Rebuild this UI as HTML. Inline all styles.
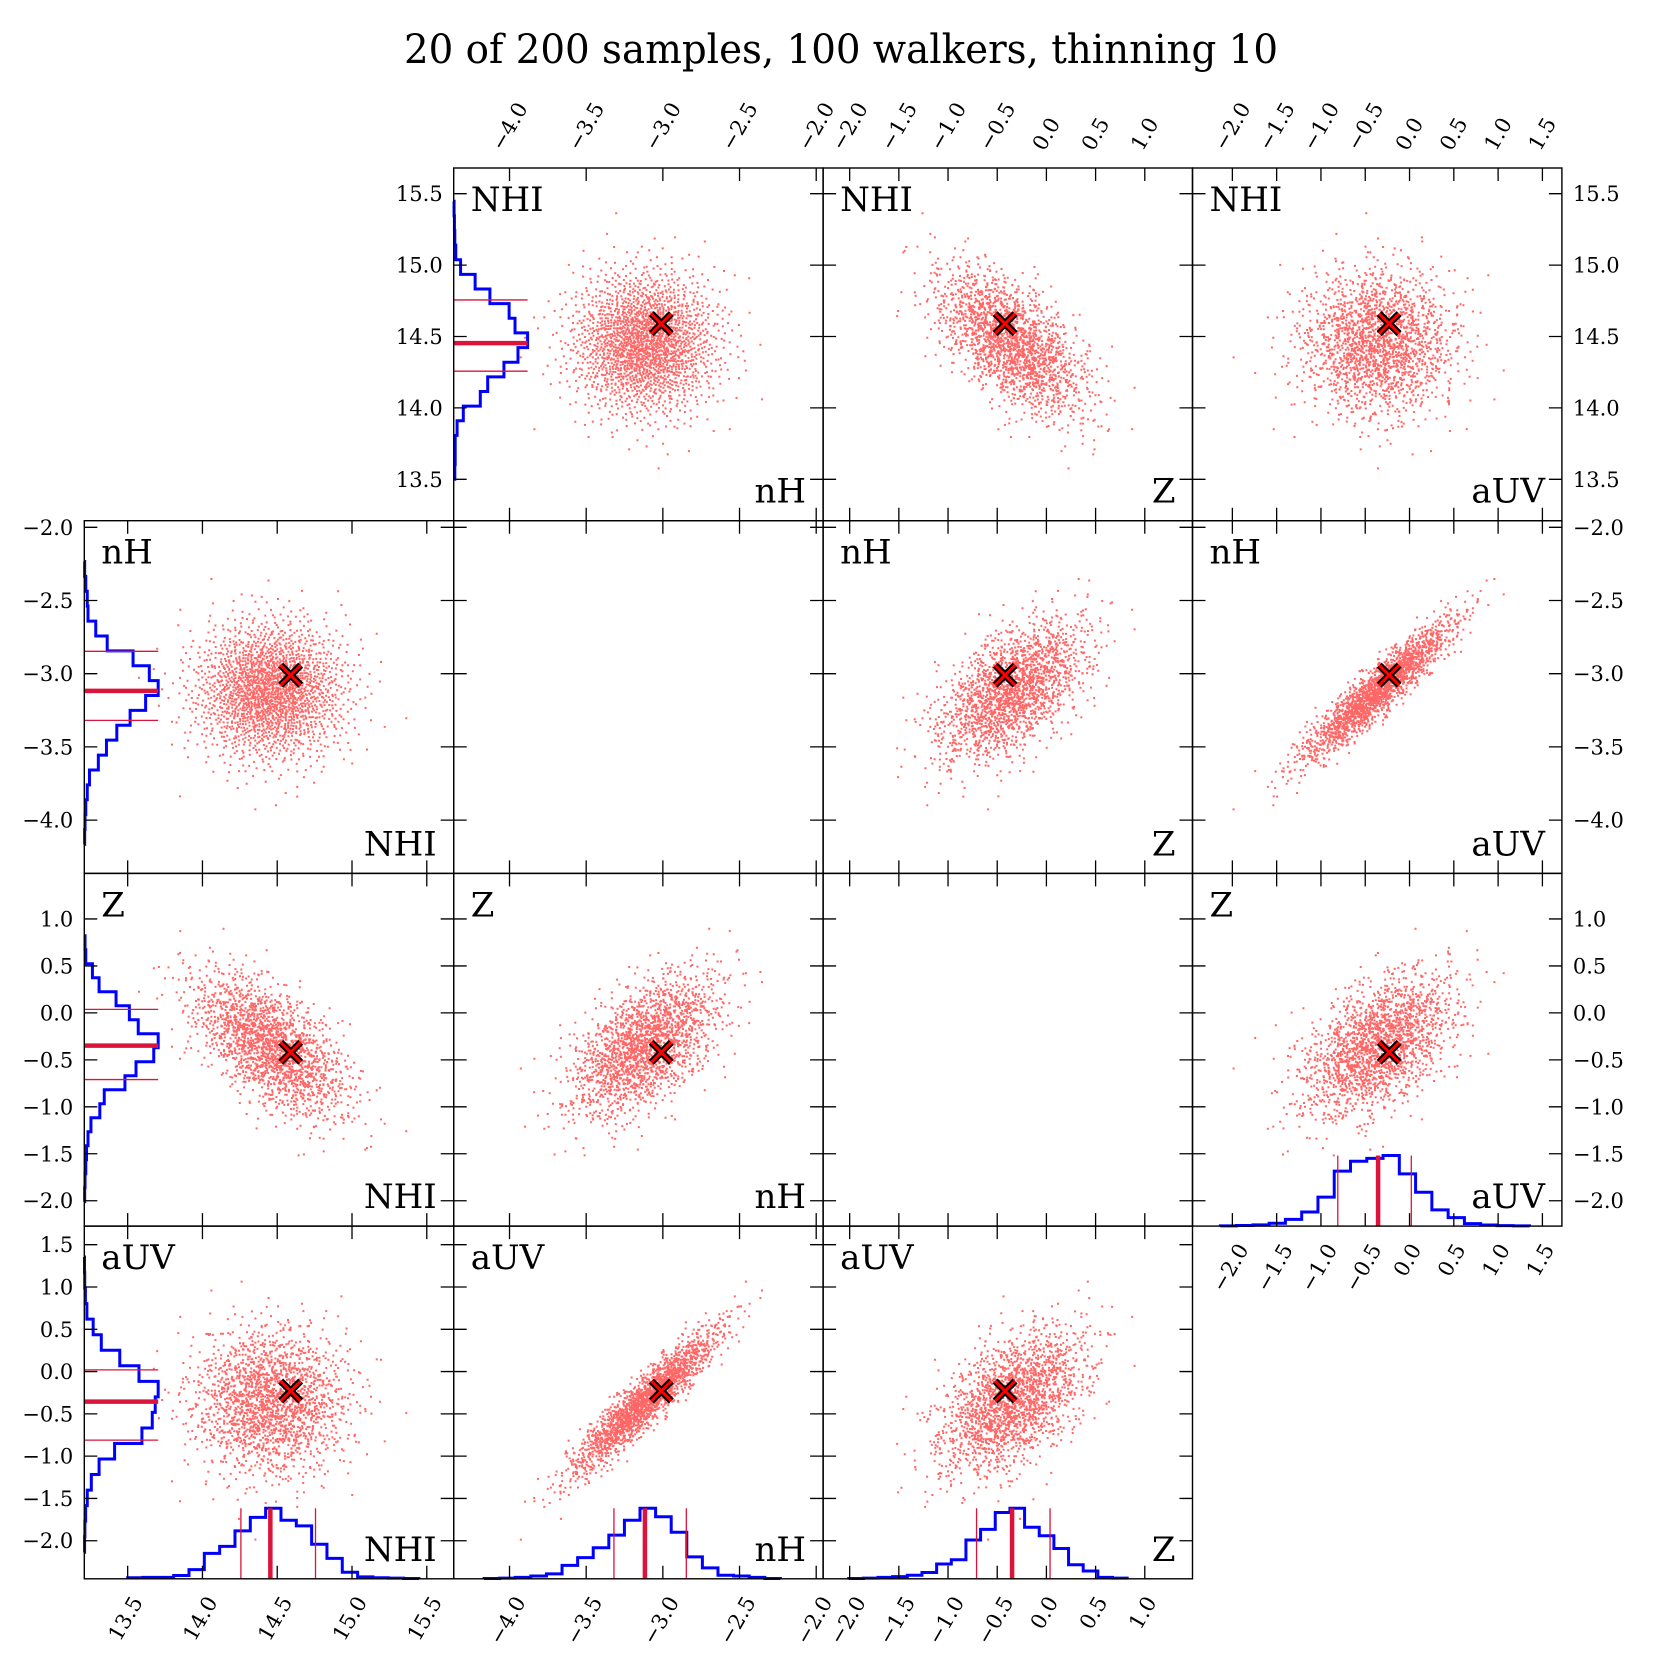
<!DOCTYPE html>
<html><head><meta charset="utf-8"><style>
html,body{margin:0;padding:0;background:#fff;}
svg{display:block;font-family:"DejaVu Serif","Liberation Serif",serif;}
</style></head><body>
<svg id="fig" xmlns="http://www.w3.org/2000/svg" width="1680" height="1680" viewBox="0 0 1680 1680">
<rect x="0" y="0" width="1680" height="1680" fill="#fff"/>
<text x="841" y="63" text-anchor="middle" font-size="40" textLength="874" lengthAdjust="spacingAndGlyphs">20 of 200 samples, 100 walkers, thinning 10</text>
</svg>
<script>
// ---- data ----
const paramNames = ["NHI", "nH", "Z", "aUV"];
const axisLo = [13.21, -4.364, -2.27, -2.45];
const axisHi = [15.68, -1.955, 1.485, 1.72];
const ticksNHI = [13.5, 14.0, 14.5, 15.0, 15.5];
const ticksNH = [-4.0, -3.5, -3.0, -2.5, -2.0];
const ticksZ = [-2.0, -1.5, -1.0, -0.5, 0.0, 0.5, 1.0];
const ticksAUV = [-2.0, -1.5, -1.0, -0.5, 0.0, 0.5, 1.0, 1.5];
const paramMedian = [14.454, -3.117, -0.349, -0.355];
const paramP16 = [14.257, -3.319, -0.71, -0.81];
const paramP84 = [14.756, -2.847, 0.037, 0.02];
const paramSd = [0.25, 0.235, 0.37, 0.42];
const corrNHI = [1, 0, -0.6, 0];
const corrNH = [0, 1, 0.55, 0.93];
const corrZ = [-0.6, 0.55, 1, 0.5];
const corrAUV = [0, 0.93, 0.5, 1];
const truthValues = [14.59, -3.01, -0.42, -0.23];
const histStart = [13.50, -4.166, -2.01, -2.136];
const histWidth = [0.1025, 0.1017, 0.149, 0.1837];
const histNHI = [0.015,0.02,0.02,0.046,0.13,0.36,0.46,0.68,0.87,1.0,0.83,0.75,0.49,0.29,0.093,0.028,0.015,0.01,0.005];
const histNH = [0.005,0.01,0.02,0.04,0.07,0.19,0.3,0.44,0.62,0.83,1.0,0.88,0.66,0.31,0.155,0.05,0.04,0.02,0.005];
const histZ = [0.005,0.01,0.02,0.03,0.05,0.09,0.21,0.27,0.55,0.70,0.94,1.0,0.73,0.61,0.43,0.2,0.11,0.02,0.01];
const histAUV = [0.004,0.008,0.018,0.04,0.095,0.2,0.41,0.78,0.92,0.96,1.0,0.74,0.48,0.23,0.12,0.035,0.015,0.006,0.003];
const nSamples = 2000;

// ---- layout ----
const NS = "http://www.w3.org/2000/svg";
const svg = document.getElementById("fig");
const X0 = 84.3, PW = 369.4, Y0 = 168, PH = 352.7;
const FS = 21, TL = 13;
const tickSets = [ticksNHI, ticksNH, ticksZ, ticksAUV];
const hists = [histNHI, histNH, histZ, histAUV];
const corr = [corrNHI, corrNH, corrZ, corrAUV];

function el(tag, attrs, parent) {
  const e = document.createElementNS(NS, tag);
  for (const k in attrs) e.setAttribute(k, attrs[k]);
  (parent || svg).appendChild(e);
  return e;
}
function sx(k, col, v) { return X0 + col * PW + (v - axisLo[k]) / (axisHi[k] - axisLo[k]) * PW; }
function sy(k, row, v) { return Y0 + row * PH + (axisHi[k] - v) / (axisHi[k] - axisLo[k]) * PH; }
function fmt(v) { const s = Math.abs(v).toFixed(1); return (v < 0 ? "\u2212" : "") + s; }
function textW(s) { let w = 0; for (const c of s) w += c === "\u2212" ? 0.838 : (c === "." ? 0.318 : 0.636); return w * FS; }

// ---- samples (deterministic quasi-random, shaped by medians/sds/correlations) ----
function halton(i, b) { let f = 1, r = 0; while (i > 0) { f /= b; r += f * (i % b); i = Math.floor(i / b); } return r; }
const L = [[0,0,0,0],[0,0,0,0],[0,0,0,0],[0,0,0,0]];
for (let i = 0; i < 4; i++) for (let j = 0; j <= i; j++) {
  let s = corr[i][j]; for (let k = 0; k < j; k++) s -= L[i][k] * L[j][k];
  L[i][j] = i === j ? Math.sqrt(s) : s / L[j][j];
}
const samples = [];
for (let n = 1; n <= nSamples; n++) {
  const u1 = halton(n, 2), u2 = halton(n, 3), u3 = halton(n, 5), u4 = halton(n, 7);
  const r1 = Math.sqrt(-2 * Math.log(Math.max(u1, 1e-9))), r2 = Math.sqrt(-2 * Math.log(Math.max(u3, 1e-9)));
  const z = [r1 * Math.cos(2 * Math.PI * u2), r1 * Math.sin(2 * Math.PI * u2), r2 * Math.cos(2 * Math.PI * u4), r2 * Math.sin(2 * Math.PI * u4)];
  const p = [];
  for (let i = 0; i < 4; i++) { let s = 0; for (let k = 0; k <= i; k++) s += L[i][k] * z[k]; p.push(paramMedian[i] + paramSd[i] * s); }
  samples.push(p);
}

// ---- panels ----
const defs = el("defs", {});
for (let row = 0; row < 4; row++) {
  for (let col = 0; col < 4; col++) {
    if (row === col && (row === 0 || row === 3)) continue;
    const left = X0 + col * PW, top = Y0 + row * PH, right = left + PW, bottom = top + PH;
    const g = el("g", {});
    
    
    const cid = "clip" + row + col;
    const cp = el("clipPath", { id: cid }, defs);
    el("rect", { x: left, y: top, width: PW, height: PH }, cp);

    const empty = row === col;
    if (!empty) {
      let d = "";
      for (const s of samples) {
        const px = sx(col, col, s[col]), py = sy(row, row, s[row]);
        d += "M" + (px - 1).toFixed(1) + " " + (py - 1).toFixed(1) + "h2v2h-2z";
      }
      const sc = el("path", { d: d, fill: "#ff0000", "fill-opacity": "0.6", "clip-path": "url(#" + cid + ")" }, g);
      
      
      const tx = sx(col, col, truthValues[col]), ty = sy(row, row, truthValues[row]);
      const cr = el("g", {}, g);
      
      
      const h = 10;
      const cd = `M${tx-h} ${ty-h}L${tx+h} ${ty+h}M${tx-h} ${ty+h}L${tx+h} ${ty-h}`;
      el("path", { d: cd, stroke: "#000", "stroke-width": 7, fill: "none" }, cr);
      el("path", { d: cd, stroke: "#ff0000", "stroke-width": 3, fill: "none" }, cr);
      const tl = el("text", { x: left + 17, y: top + 43, "font-size": 34 }, g);
      tl.textContent = paramNames[row];
      
      
      const br = el("text", { x: right - 17, y: bottom - 18, "font-size": 34, "text-anchor": "end" }, g);
      br.textContent = paramNames[col];
      
      
    }

    const firstCol = row === 0 ? 1 : 0;
    if (col === firstCol) {
      const k = row, hv = hists[k];
      let d = "M" + left + " " + sy(k, row, histStart[k]);
      for (let i = 0; i < hv.length; i++) {
        const x = left + hv[i] * 0.2 * PW;
        d += "L" + x + " " + sy(k, row, histStart[k] + i * histWidth[k]) + "L" + x + " " + sy(k, row, histStart[k] + (i + 1) * histWidth[k]);
      }
      d += "L" + left + " " + sy(k, row, histStart[k] + hv.length * histWidth[k]);
      const hp = el("path", { d: d, fill: "none", stroke: "#0000ff", "stroke-width": 3 }, g);
      
      
      const xm = left + 0.2 * PW;
      [[paramP16[k], 1.3], [paramP84[k], 1.3], [paramMedian[k], 4.5]].forEach((q, qi) => {
        const ln = el("line", { x1: left, x2: xm, y1: sy(k, row, q[0]), y2: sy(k, row, q[0]), stroke: "#dc143c", "stroke-width": q[1] }, g);
        
        
      });
    }
    const lastRow = col === 3 ? 2 : 3;
    if (row === lastRow) {
      const k = col, hv = hists[k];
      let d = "M" + sx(k, col, histStart[k]) + " " + bottom;
      for (let i = 0; i < hv.length; i++) {
        const y = bottom - hv[i] * 0.2 * PH;
        d += "L" + sx(k, col, histStart[k] + i * histWidth[k]) + " " + y + "L" + sx(k, col, histStart[k] + (i + 1) * histWidth[k]) + " " + y;
      }
      d += "L" + sx(k, col, histStart[k] + hv.length * histWidth[k]) + " " + bottom;
      const hp = el("path", { d: d, fill: "none", stroke: "#0000ff", "stroke-width": 3 }, g);
      
      
      const ym = bottom - 0.2 * PH;
      [[paramP16[k], 1.3], [paramP84[k], 1.3], [paramMedian[k], 4.5]].forEach((q, qi) => {
        const ln = el("line", { x1: sx(k, col, q[0]), x2: sx(k, col, q[0]), y1: bottom, y2: ym, stroke: "#dc143c", "stroke-width": q[1] }, g);
        
        
      });
    }

    const fr = el("rect", { x: left, y: top, width: PW, height: PH, fill: "none", stroke: "#000", "stroke-width": 1.4 }, g);
    
    

    let td = "";
    for (const v of tickSets[col]) {
      if (v < axisLo[col] || v > axisHi[col]) continue;
      const x = sx(col, col, v);
      td += `M${x} ${top}v${TL}M${x} ${bottom}v${-TL}`;
    }
    for (const v of tickSets[row]) {
      if (v < axisLo[row] || v > axisHi[row]) continue;
      const y = sy(row, row, v);
      td += `M${left} ${y}h${TL}M${right} ${y}h${-TL}`;
    }
    const tp = el("path", { d: td, stroke: "#000", "stroke-width": 1.3, fill: "none" }, g);
    
    

    const showLeft = col === firstCol;
    const showRight = col === 3 && row <= 2;
    const showTop = row === 0 && col >= 1;
    const showBottom = row === lastRow && !(row === col);
    for (const v of tickSets[row]) {
      if (v < axisLo[row] || v > axisHi[row]) continue;
      const y = sy(row, row, v);
      if (showLeft) {
        const t = el("text", { x: left - 11, y: y + 7.5, "font-size": FS, "text-anchor": "end" }, g);
        t.textContent = fmt(v);
        
        
      }
      if (showRight) {
        const t = el("text", { x: right + 11, y: y + 7.5, "font-size": FS }, g);
        t.textContent = fmt(v);
        
        
      }
    }
    for (const v of tickSets[col]) {
      if (v < axisLo[col] || v > axisHi[col]) continue;
      const x = sx(col, col, v);
      const s = fmt(v);
      const bbH = textW(s) * 0.866 + FS * 1.05 * 0.5;
      if (showTop) {
        const cy = top - 14 - bbH / 2;
        const t = el("text", { x: x, y: cy, "font-size": FS, "text-anchor": "middle", "dominant-baseline": "central", transform: `rotate(-60 ${x} ${cy})` }, g);
        t.textContent = s;
        
        
      }
      if (showBottom) {
        const cy = bottom + 14 + bbH / 2;
        const t = el("text", { x: x - 2, y: cy, "font-size": FS, "text-anchor": "middle", "dominant-baseline": "central", transform: `rotate(-60 ${x - 2} ${cy})` }, g);
        t.textContent = s;
        
        
      }
    }
  }
}
</script>
</body></html>
